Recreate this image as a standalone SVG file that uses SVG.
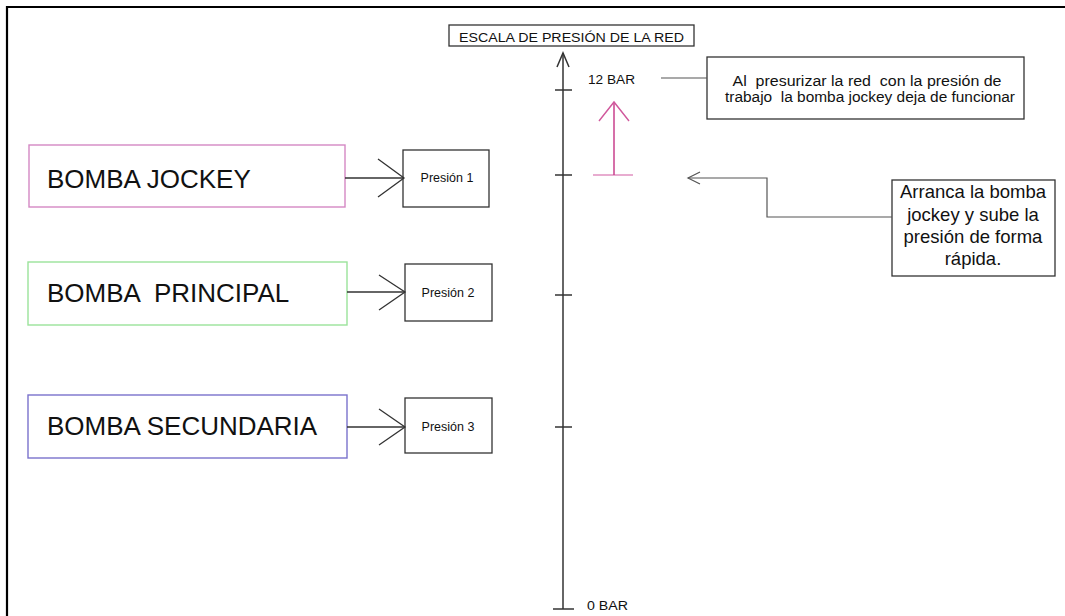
<svg xmlns="http://www.w3.org/2000/svg" width="1065" height="616" viewBox="0 0 1065 616">
<style>
text{font-family:"Liberation Sans",Arial,sans-serif;fill:#111}
.big{font-size:26px}
.p{font-size:12.5px}
.box{fill:#fff;stroke:#333;stroke-width:1.3}
.ln{fill:none;stroke:#333;stroke-width:1.3}
.gl{fill:none;stroke:#555;stroke-width:1.2}
.tk{stroke:#333;stroke-width:1.5}
</style>
<rect width="1065" height="616" fill="#fff"/>
<path d="M7,616 V7 H1065" fill="none" stroke="#000" stroke-width="2.2"/>

<g id="bomba-jockey">
<rect x="29" y="145" width="316" height="62" fill="#fff" stroke="#d488c4" stroke-width="1.4"/>
<text class="big" x="47" y="188">BOMBA JOCKEY</text>
</g>
<g id="bomba-principal">
<rect x="28" y="262" width="319" height="63" fill="#fff" stroke="#9be39b" stroke-width="1.4"/>
<text class="big" x="47" y="302" xml:space="preserve">BOMBA  PRINCIPAL</text>
</g>
<g id="bomba-secundaria">
<rect x="28" y="395" width="319" height="63" fill="#fff" stroke="#7a72cc" stroke-width="1.4"/>
<text class="big" x="47" y="435">BOMBA SECUNDARIA</text>
</g>

<g id="presion-1">
<rect class="box" x="403" y="150" width="86" height="57"/>
<text class="p" x="447" y="182" text-anchor="middle">Presión 1</text>
</g>
<g id="presion-2">
<rect class="box" x="405" y="264" width="87" height="57"/>
<text class="p" x="448" y="297" text-anchor="middle">Presión 2</text>
</g>
<g id="presion-3">
<rect class="box" x="405" y="398" width="87" height="55"/>
<text class="p" x="448" y="431" text-anchor="middle">Presión 3</text>
</g>

<g id="titulo-escala">
<rect class="box" x="449" y="25" width="245" height="21"/>
<text x="571.5" y="42" font-size="12" text-anchor="middle" textLength="225" lengthAdjust="spacingAndGlyphs">ESCALA DE PRESIÓN DE LA RED</text>
</g>

<g id="escala">
<line class="tk" x1="563" y1="53" x2="563" y2="609"/>
<path class="tk" fill="none" d="M557,67 L563,53 L569,67"/>
<line class="tk" x1="555" y1="90" x2="572" y2="90"/>
<line class="tk" x1="555" y1="175" x2="572" y2="175"/>
<line class="tk" x1="555" y1="295" x2="572" y2="295"/>
<line class="tk" x1="555" y1="427" x2="572" y2="427"/>
<line class="tk" x1="553" y1="609" x2="574" y2="609"/>
<text x="588" y="84" font-size="12" textLength="47" lengthAdjust="spacingAndGlyphs">12 BAR</text>
<text x="587" y="610" font-size="12" textLength="41" lengthAdjust="spacingAndGlyphs">0 BAR</text>
</g>

<g id="subida-presion">
<line x1="593" y1="175" x2="633" y2="175" stroke="#e090c0" stroke-width="1.6"/>
<line x1="614" y1="175" x2="614" y2="102" stroke="#c8408c" stroke-width="1.5"/>
<path d="M599,121 L614,102 L629,121" fill="none" stroke="#d0589c" stroke-width="1.4"/>
</g>

<g id="nota-12bar">
<rect class="box" x="707" y="57" width="317" height="62"/>
<text x="867" y="86" font-size="14" text-anchor="middle" textLength="269" lengthAdjust="spacingAndGlyphs" xml:space="preserve">Al  presurizar la red  con la presión de</text>
<text x="870" y="102" font-size="14" text-anchor="middle" textLength="290" lengthAdjust="spacingAndGlyphs" xml:space="preserve">trabajo  la bomba jockey deja de funcionar</text>
</g>

<g id="nota-arranque">
<rect class="box" x="892" y="180" width="163" height="96"/>
<g font-size="18.5" text-anchor="middle">
<text x="973" y="198">Arranca la bomba</text>
<text x="973" y="221">jockey y sube la</text>
<text x="973" y="243">presión de forma</text>
<text x="973" y="265">rápida.</text>
</g>
</g>

<g id="connectors">
<line class="ln" x1="345" y1="178" x2="404" y2="178"/>
<path class="ln" d="M378,159 L404,178 L378,197"/>
<line class="ln" x1="347" y1="292" x2="405" y2="292"/>
<path class="ln" d="M379,275 L405,292 L379,310"/>
<line class="ln" x1="347" y1="427" x2="405" y2="427"/>
<path class="ln" d="M379,409 L405,427 L379,445"/>
<line class="gl" x1="661" y1="78" x2="707" y2="78"/>
<path class="gl" d="M688,178 H767 V217 H892"/>
<path class="gl" d="M700,172 L688,178 L700,184"/>
</g>
</svg>
